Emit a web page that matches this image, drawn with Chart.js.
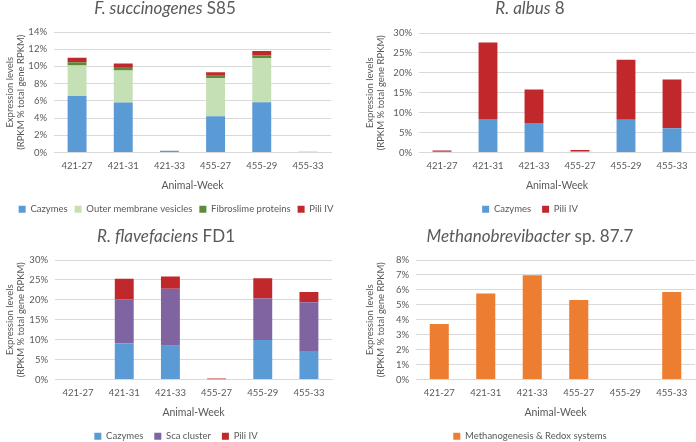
<!DOCTYPE html>
<html>
<head>
<meta charset="utf-8">
<script src="https://cdn.jsdelivr.net/npm/chart.js@4.4.0/dist/chart.umd.min.js"></script>
<style>
  body { margin: 0; background: #fff; }
  #wrap { position: relative; width: 696px; height: 442px; }
  .panel { position: absolute; width: 348px; height: 221px; }
</style>
</head>
<body>
<div id="wrap">
  <div class="panel" style="left:0;top:0"><canvas id="c1"></canvas></div>
  <div class="panel" style="left:348px;top:0"><canvas id="c2"></canvas></div>
  <div class="panel" style="left:0;top:221px"><canvas id="c3"></canvas></div>
  <div class="panel" style="left:348px;top:221px"><canvas id="c4"></canvas></div>
</div>
<script>
// categorias (animal-semana)
const weeks = ['421-27', '421-31', '421-33', '455-27', '455-29', '455-33'];

// F. succinogenes S85 (% del RPKM total)
const fsCazymes = [6.56, 5.8, 0.19, 4.2, 5.84, 0.1];
const fsVesicles = [3.55, 3.74, 0.0, 4.46, 5.15, 0.0];
const fsFibroslime = [0.38, 0.38, 0.0, 0.27, 0.31, 0.0];
const fsPili = [0.53, 0.42, 0.0, 0.38, 0.49, 0.0];

// R. albus 8
const raCazymes = [0.2, 8.4, 7.4, 0.3, 8.2, 6.1];
const raPili = [0.3, 19.2, 8.4, 0.3, 15.1, 12.2];

// R. flavefaciens FD1
const rfCazymes = [0.0, 9.13, 8.48, 0.05, 9.94, 7.17];
const rfSca = [0.0, 10.97, 14.3, 0.0, 10.4, 12.2];
const rfPili = [0.0, 5.2, 3.1, 0.2, 5.1, 2.6];

// Methanobrevibacter sp. 87.7
const mbMethano = [3.72, 5.76, 6.98, 5.33, 0.0, 5.85];

const FONT = 'Lato, "Open Sans", sans-serif';
const GREY = '#595959';

// dibuja el titulo con partes en cursiva
const titlePlugin = {
    id: 'mixedTitle',
    afterDraw(chart, args, opts) {
        const ctx = chart.ctx;
        ctx.save();
        ctx.fillStyle = GREY;
        ctx.textBaseline = 'alphabetic';
        let total = 0;
        opts.parts.forEach(p => {
            ctx.font = (p.italic ? 'italic ' : '') + opts.size + 'px ' + FONT;
            p.w = ctx.measureText(p.text).width;
            total += p.w;
        });
        let x = opts.x - total / 2;
        opts.parts.forEach(p => {
            ctx.font = (p.italic ? 'italic ' : '') + opts.size + 'px ' + FONT;
            ctx.fillText(p.text, x, opts.y);
            x += p.w;
        });
        ctx.restore();
    }
};

function makeChart(id, datasets, maxY, step, title, pad, leftW, rightW, legendPad, titleGap) {
    return new Chart(document.getElementById(id), {
        type: 'bar',
        data: { labels: weeks, datasets: datasets },
        plugins: [titlePlugin],
        options: {
            responsive: true,
            maintainAspectRatio: false,
            animation: false,
            layout: { padding: pad },
            datasets: { bar: { barPercentage: 0.41, categoryPercentage: 1.0 } },
            scales: {
                x: {
                    stacked: true,
                    grid: { display: false, drawTicks: false },
                    border: { color: '#D9D9D9' },
                    ticks: { padding: 8, autoSkip: false, color: GREY, font: { family: FONT, size: 9.5 }, maxRotation: 0 },
                    title: { display: true, text: 'Animal-Week', color: GREY, font: { family: FONT, size: 10.5 }, padding: { top: -1, bottom: titleGap } }
                },
                y: {
                    stacked: true,
                    min: 0,
                    max: maxY,
                    afterFit: s => { s.width = leftW; },
                    grid: { color: '#D9D9D9', drawTicks: false },
                    border: { display: false },
                    ticks: { stepSize: step, autoSkip: false, padding: 7, color: GREY, font: { family: FONT, size: 9.5 }, callback: v => v + '%' },
                    title: { display: true, text: ['Expression levels', '(RPKM % total gene RPKM)'], color: GREY, font: { family: FONT, size: 9.5 }, padding: 0 }
                },
                r: {
                    type: 'linear',
                    position: 'right',
                    grid: { display: false, drawTicks: false },
                    border: { display: false },
                    ticks: { display: false },
                    afterFit: s => { s.width = rightW; }
                }
            },
            plugins: {
                legend: {
                    position: 'bottom',
                    labels: { boxWidth: 7, boxHeight: 7, padding: legendPad, color: GREY, font: { family: FONT, size: 9.5 } }
                },
                tooltip: { enabled: false },
                mixedTitle: title
            }
        }
    });
}

document.addEventListener('DOMContentLoaded', () => {
    makeChart('c1', [
        { label: 'Cazymes', data: fsCazymes, backgroundColor: '#5B9BD5' },
        { label: 'Outer membrane vesicles', data: fsVesicles, backgroundColor: '#C5E0B4' },
        { label: 'Fibroslime proteins', data: fsFibroslime, backgroundColor: '#5E8A3C' },
        { label: 'Pili IV', data: fsPili, backgroundColor: '#C0282C' }
    ], 14, 2, { x: 165, y: 14, size: 17, parts: [{ text: 'F. succinogenes', italic: true }, { text: ' S85' }] },
    { top: 32, right: 0, left: 4, bottom: -3 }, 50, 17, 7, 6);

    makeChart('c2', [
        { label: 'Cazymes', data: raCazymes, backgroundColor: '#5B9BD5' },
        { label: 'Pili IV', data: raPili, backgroundColor: '#C0282C' }
    ], 30, 5, { x: 182, y: 14, size: 17, parts: [{ text: 'R. albus', italic: true }, { text: ' 8' }] },
    { top: 33, right: 0, left: 16, bottom: -3 }, 55, 1, 11, 2);

    makeChart('c3', [
        { label: 'Cazymes', data: rfCazymes, backgroundColor: '#5B9BD5' },
        { label: 'Sca cluster', data: rfSca, backgroundColor: '#8064A2' },
        { label: 'Pili IV', data: rfPili, backgroundColor: '#C0282C' }
    ], 30, 5, { x: 166, y: 21, size: 17, parts: [{ text: 'R. flavefaciens', italic: true }, { text: ' FD1' }] },
    { top: 39, right: 0, left: 4, bottom: -9 }, 51, 16, 11, 2);

    makeChart('c4', [
        { label: 'Methanogenesis & Redox systems', data: mbMethano, backgroundColor: '#ED7D31' }
    ], 8, 1, { x: 182, y: 21, size: 17, parts: [{ text: 'Methanobrevibacter', italic: true }, { text: ' sp. 87.7' }] },
    { top: 39, right: 0, left: 16, bottom: -9 }, 52, 1, 11, 2);
});
</script>
</body>
</html>
